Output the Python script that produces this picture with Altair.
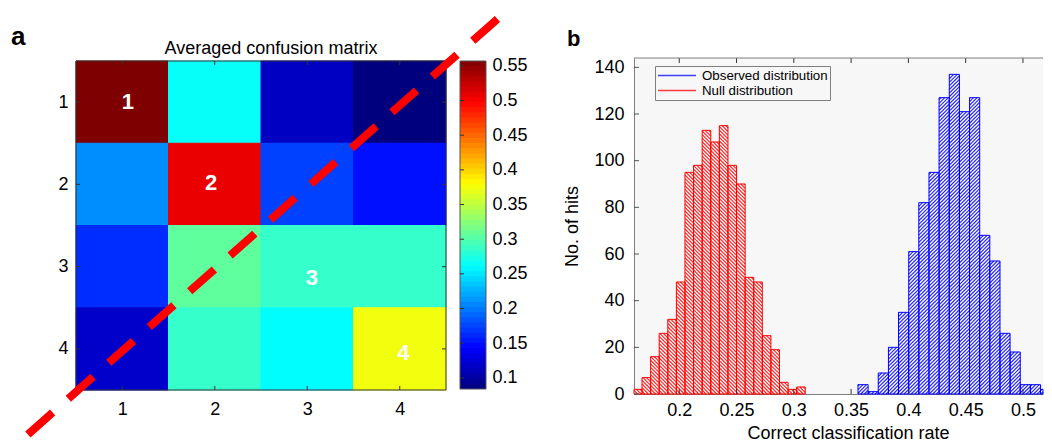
import altair as alt
import pandas as pd

# ---------------- panel a : averaged confusion matrix ----------------
classes = [1, 2, 3, 4]
conf_row1 = [0.557, 0.264, 0.115, 0.084]
conf_row2 = [0.209, 0.507, 0.173, 0.150]
conf_row3 = [0.164, 0.306, 0.286, 0.286]
conf_row4 = [0.119, 0.286, 0.261, 0.373]
diag_labels = ["1", "2", "3", "4"]
diag_label_x = [1.06, 1.96, 3.05, 4.04]
diag_label_y = [1.00, 1.98, 3.14, 4.05]
dash_line_x = [-0.02, 5.08]
dash_line_y = [5.04, -0.035]
cbar_min = 0.084
cbar_max = 0.557
cbar_ticks = [0.1, 0.15, 0.2, 0.25, 0.3, 0.35, 0.4, 0.45, 0.5, 0.55]
jet_colors = ["#00007f", "#0000ff", "#007fff", "#00ffff", "#7fff7f",
              "#ffff00", "#ff7f00", "#ff0000", "#7f0000"]
title_a = "Averaged confusion matrix"

# ---------------- panel b : histograms ----------------
series_names = ["Observed distribution", "Null distribution"]
series_colors = ["#0000ff", "#ff0000"]
obs_bin_left = [0.356, 0.3649, 0.3737, 0.3826, 0.3914, 0.4003, 0.4091, 0.418,
                0.4268, 0.4357, 0.4445, 0.4534, 0.4622, 0.4711, 0.4799, 0.4888,
                0.4976, 0.5065, 0.5153, 0.5242]
obs_counts = [4, 1, 9, 20, 35, 61, 82, 95, 127, 137, 121, 127, 68, 57, 26, 18,
              4, 4, 2, 2]
obs_bin_width = 0.00885
null_bin_left = [0.160, 0.1675, 0.175, 0.1825, 0.190, 0.1975, 0.205, 0.2125,
                 0.220, 0.2275, 0.235, 0.2425, 0.250, 0.2575, 0.265, 0.2725,
                 0.280, 0.2875, 0.295, 0.3025]
null_counts = [2, 7, 16, 26, 32, 48, 95, 98, 113, 108, 115, 98, 90, 50, 48, 25,
               19, 5, 2, 3]
null_bin_width = 0.0075
rate_ticks = [0.2, 0.25, 0.3, 0.35, 0.4, 0.45, 0.5]
hits_ticks = [0, 20, 40, 60, 80, 100, 120, 140]
rate_domain = [0.1605, 0.5175]
hits_domain = [0, 144]

FONT = "Liberation Sans"

# ---------------- layout (pixels) ----------------
A_W, A_H = 410, 336
HEAT_W = 370
HEAT_TOP, HEAT_BOT = 3, 332
CB_X0, CB_X1 = 384, 410
CB_TOP, CB_BOT = 3, 331
B_W, B_H = 409, 336
HATCH = 3.6

# ================= panel a =================
rows = []
for r, vals in zip(classes, [conf_row1, conf_row2, conf_row3, conf_row4]):
    for c, v in zip(classes, vals):
        rows.append({"row": r, "col": c, "value": v})
heat_df = pd.DataFrame(rows)

n_stop = len(jet_colors)
stops = [cbar_min + k * (cbar_max - cbar_min) / (n_stop - 1) for k in range(n_stop)]
cs = alt.Scale(domain=stops, range=jet_colors, interpolate="rgb", clamp=True)

lo_c, hi_c = min(classes) - 0.5, max(classes) + 0.5
xs = alt.Scale(domain=[lo_c, hi_c], range=[0, HEAT_W], nice=False, zero=False)
ys = alt.Scale(domain=[lo_c, hi_c], range=[HEAT_TOP, HEAT_BOT], nice=False, zero=False)
ax_hx = alt.Axis(values=classes, format="d", title=None, grid=False, domain=False,
                 ticks=False, labelFontSize=18, labelPadding=6, labelColor="black",
                 labelFlush=False, labelOverlap=False)
ax_hy = alt.Axis(values=classes, format="d", title=None, grid=False, domain=False,
                 ticks=False, labelFontSize=18, labelPadding=8, labelColor="black",
                 labelFlush=False, labelOverlap=False, orient="left")

heat = alt.Chart(heat_df).transform_calculate(
    x0="datum.col - 0.5", x1="datum.col + 0.5",
    y0="datum.row - 0.5", y1="datum.row + 0.5",
).mark_rect(strokeWidth=1).encode(
    x=alt.X("x0:Q", scale=xs, axis=ax_hx), x2="x1:Q",
    y=alt.Y("y0:Q", scale=ys, axis=ax_hy), y2="y1:Q",
    color=alt.Color("value:Q", scale=cs, legend=None),
    stroke=alt.Stroke("value:Q", scale=cs, legend=None),
)

frame_df = pd.DataFrame({"fx0": [lo_c], "fx1": [hi_c], "fy0": [lo_c], "fy1": [hi_c]})
frame = alt.Chart(frame_df).mark_rect(fillOpacity=0, stroke="#333333", strokeWidth=1).encode(
    x=alt.X("fx0:Q", scale=xs, axis=ax_hx), x2="fx1:Q",
    y=alt.Y("fy0:Q", scale=ys, axis=ax_hy), y2="fy1:Q",
)

tick_df = pd.DataFrame({"v": classes})
tk_top = alt.Chart(tick_df).mark_rule(color="#333333").encode(
    x=alt.X("v:Q", scale=xs, axis=ax_hx), y=alt.value(HEAT_TOP), y2=alt.value(HEAT_TOP + 4))
tk_bot = alt.Chart(tick_df).mark_rule(color="#333333").encode(
    x=alt.X("v:Q", scale=xs, axis=ax_hx), y=alt.value(HEAT_BOT), y2=alt.value(HEAT_BOT - 4))
tk_left = alt.Chart(tick_df).mark_rule(color="#333333").encode(
    y=alt.Y("v:Q", scale=ys, axis=ax_hy), x=alt.value(0), x2=alt.value(4))
tk_right = alt.Chart(tick_df).mark_rule(color="#333333").encode(
    y=alt.Y("v:Q", scale=ys, axis=ax_hy), x=alt.value(HEAT_W), x2=alt.value(HEAT_W - 4))

lab_df = pd.DataFrame({"lx": diag_label_x, "ly": diag_label_y, "txt": diag_labels})
labels = alt.Chart(lab_df).mark_text(color="white", fontWeight="bold", fontSize=22,
                                     align="center", baseline="middle").encode(
    x=alt.X("lx:Q", scale=xs, axis=ax_hx),
    y=alt.Y("ly:Q", scale=ys, axis=ax_hy),
    text="txt:N",
)

line_df = pd.DataFrame({"dx": dash_line_x, "dy": dash_line_y})
dash_line = alt.Chart(line_df).mark_line(color="#ff0000", strokeWidth=8,
                                         strokeDash=[33, 21], strokeCap="butt",
                                         strokeJoin="bevel").encode(
    x=alt.X("dx:Q", scale=xs, axis=ax_hx),
    y=alt.Y("dy:Q", scale=ys, axis=ax_hy),
)

letter_a = alt.Chart(pd.DataFrame({"t": ["a"]})).mark_text(
    fontSize=26, fontWeight="bold", align="left", baseline="alphabetic", color="black"
).encode(x=alt.value(-65), y=alt.value(-13), text="t:N")

title_text = alt.Chart(pd.DataFrame({"t": [title_a]})).mark_text(
    fontSize=18, align="center", baseline="alphabetic", color="black"
).encode(x=alt.value(195), y=alt.value(-4), text="t:N")

heat_group = alt.layer(heat, frame, tk_top, tk_bot, tk_left, tk_right, labels,
                       dash_line, letter_a, title_text)

# colorbar
cb_y = alt.Scale(domain=[cbar_min, cbar_max], range=[CB_BOT, CB_TOP], nice=False, zero=False)
ax_cb = alt.Axis(orient="right", values=cbar_ticks, format="~g", title=None, grid=False,
                 domain=False, ticks=False, labelFontSize=18, labelPadding=6,
                 labelColor="black", labelFlush=False, labelOverlap=False)
step = (cbar_max - cbar_min) / 64
cb_bands = alt.Chart(alt.sequence(0, 64, as_="i")).transform_calculate(
    lo=f"{cbar_min} + datum.i * {step}",
    hi=f"min({cbar_max}, {cbar_min} + (datum.i + 1.5) * {step})",
    mid=f"{cbar_min} + (datum.i + 0.5) * {step}",
).mark_rect().encode(
    x=alt.value(CB_X0), x2=alt.value(CB_X1),
    y=alt.Y("lo:Q", scale=cb_y, axis=ax_cb), y2="hi:Q",
    color=alt.Color("mid:Q", scale=cs, legend=None),
)
cb_frame = alt.Chart(pd.DataFrame({"lo": [cbar_min], "hi": [cbar_max]})).mark_rect(
    fillOpacity=0, stroke="#555555", strokeWidth=1).encode(
    x=alt.value(CB_X0), x2=alt.value(CB_X1),
    y=alt.Y("lo:Q", scale=cb_y, axis=ax_cb), y2="hi:Q",
)
cb_ticks = alt.Chart(pd.DataFrame({"v": cbar_ticks})).mark_rule(color="#333333").encode(
    y=alt.Y("v:Q", scale=cb_y, axis=ax_cb), x=alt.value(CB_X0), x2=alt.value(CB_X0 + 4))
cb_group = alt.layer(cb_bands, cb_frame, cb_ticks)

panel_a = alt.layer(heat_group, cb_group).resolve_scale(y="independent").properties(
    width=A_W, height=A_H,
)

# ================= panel b =================
hist_rows = []
for name, lefts, counts, bw in [
    (series_names[0], obs_bin_left, obs_counts, obs_bin_width),
    (series_names[1], null_bin_left, null_counts, null_bin_width),
]:
    for x0, h in zip(lefts, counts):
        hist_rows.append({"dist": name, "x0": x0, "x1": x0 + bw, "hits": h, "base": 0})
hist_df = pd.DataFrame(hist_rows)

XMIN, XMAX = rate_domain
hx = alt.Scale(domain=rate_domain, nice=False, zero=False)
hy = alt.Scale(domain=hits_domain, nice=False, zero=False)
ax_bx = alt.Axis(values=rate_ticks, format="~g", grid=False, ticks=False,
                 domainColor="#7f7f7f", labelFontSize=18, labelPadding=7,
                 labelColor="black", labelFlush=False, labelOverlap=False,
                 title="Correct classification rate", titleFontSize=18,
                 titleFontWeight="normal", titlePadding=5, titleColor="black",
                 titleX=214)
ax_by = alt.Axis(values=hits_ticks, format="d", grid=False, ticks=False,
                 domainColor="#7f7f7f", labelFontSize=18, labelPadding=10,
                 labelColor="black", labelOverlap=False,
                 title="No. of hits", titleFontSize=18, titleFontWeight="normal",
                 titlePadding=12, titleColor="black")
stroke_scale = alt.Scale(domain=series_names, range=series_colors)
leg = alt.Legend(title=None, orient="none", legendX=21, legendY=8, symbolType="stroke",
                 symbolSize=1444, symbolStrokeWidth=1.3, symbolOpacity=0.75,
                 labelFontSize=13.3, labelFont=FONT, labelColor="black",
                 padding=2, rowPadding=0, clipHeight=15, labelOffset=5,
                 strokeColor="#7f7f7f", fillColor="#f7f7f7", labelLimit=300)

SX = B_W / (XMAX - XMIN)
SY = B_H / (hits_domain[1] - hits_domain[0])

# bars clipped to the visible x range (keeps the drawing inside the page)
hist_base = alt.Chart(hist_df).transform_calculate(
    x0c=f"max(datum.x0, {XMIN})", x1c=f"min(datum.x1, {XMAX})"
).transform_filter("datum.x1c > datum.x0c")

bars_fill = hist_base.mark_rect(fill="white").encode(
    x=alt.X("x0c:Q", scale=hx, axis=ax_bx), x2="x1c:Q",
    y=alt.Y("hits:Q", scale=hy, axis=ax_by), y2="base:Q",
)


def hatch(name, slash, colour):
    base = hist_base.transform_filter(f"datum.dist == '{name}'").transform_calculate(
        L=f"(datum.x0c - {XMIN}) * {SX}",
        w=f"(datum.x1c - datum.x0c) * {SX}",
        hp=f"datum.hits * {SY}",
    )
    if slash:
        base = base.transform_calculate(
            ks=f"sequence(ceil((-datum.w - datum.L) / {HATCH}), floor((datum.hp - datum.L) / {HATCH}) + 1)"
        ).transform_flatten(["ks"]).transform_calculate(
            t=f"datum.ks * {HATCH} + datum.L",
            ua="max(0, -datum.t)",
            ub="min(datum.w, datum.hp - datum.t)",
        ).transform_filter("datum.ub - datum.ua > 0.2").transform_calculate(
            hx1=f"datum.x0c + datum.ua / {SX}",
            hy1=f"(datum.ua + datum.t) / {SY}",
            hx2=f"datum.x0c + datum.ub / {SX}",
            hy2=f"(datum.ub + datum.t) / {SY}",
        )
    else:
        base = base.transform_calculate(
            ks=f"sequence(ceil(datum.L / {HATCH}), floor((datum.L + datum.hp + datum.w) / {HATCH}) + 1)"
        ).transform_flatten(["ks"]).transform_calculate(
            t=f"datum.ks * {HATCH} - datum.L",
            ua="max(0, datum.t - datum.hp)",
            ub="min(datum.w, datum.t)",
        ).transform_filter("datum.ub - datum.ua > 0.2").transform_calculate(
            hx1=f"datum.x0c + datum.ua / {SX}",
            hy1=f"(datum.t - datum.ua) / {SY}",
            hx2=f"datum.x0c + datum.ub / {SX}",
            hy2=f"(datum.t - datum.ub) / {SY}",
        )
    return base.mark_rule(strokeWidth=1.2, opacity=0.85, color=colour).encode(
        x=alt.X("hx1:Q", scale=hx, axis=ax_bx), x2="hx2:Q",
        y=alt.Y("hy1:Q", scale=hy, axis=ax_by), y2="hy2:Q",
    )


hatch_obs = hatch(series_names[0], True, series_colors[0])
hatch_null = hatch(series_names[1], False, series_colors[1])

bars_outline = hist_base.mark_rect(filled=False, strokeWidth=1).encode(
    x=alt.X("x0c:Q", scale=hx, axis=ax_bx), x2="x1c:Q",
    y=alt.Y("hits:Q", scale=hy, axis=ax_by), y2="base:Q",
    stroke=alt.Stroke("dist:N", scale=stroke_scale, legend=leg),
)

rate_tick_df = pd.DataFrame({"v": rate_ticks})
hits_tick_df = pd.DataFrame({"v": hits_ticks})
btk_top = alt.Chart(rate_tick_df).mark_rule(color="#333333").encode(
    x=alt.X("v:Q", scale=hx, axis=ax_bx), y=alt.value(0), y2=alt.value(5))
btk_bot = alt.Chart(rate_tick_df).mark_rule(color="#333333").encode(
    x=alt.X("v:Q", scale=hx, axis=ax_bx), y=alt.value(B_H), y2=alt.value(B_H - 5))
btk_left = alt.Chart(hits_tick_df).mark_rule(color="#555555").encode(
    y=alt.Y("v:Q", scale=hy, axis=ax_by), x=alt.value(0), x2=alt.value(5))
top_border = alt.Chart(pd.DataFrame({"z": [0]})).mark_rule(color="#7f7f7f").encode(
    x=alt.value(0), x2=alt.value(B_W), y=alt.value(0))

letter_b = alt.Chart(pd.DataFrame({"t": ["b"]})).mark_text(
    fontSize=22, fontWeight="bold", align="left", baseline="alphabetic", color="black"
).encode(x=alt.value(-67), y=alt.value(-12), text="t:N")

panel_b = alt.layer(bars_fill, hatch_obs, hatch_null, bars_outline, btk_top, btk_bot,
                    btk_left, top_border, letter_b).properties(
    width=B_W, height=B_H, view=alt.ViewBackground(fill="#f7f7f7", strokeWidth=0),
)

chart = alt.hconcat(panel_a, panel_b, spacing=148, bounds="flush").properties(
    padding={"left": 3, "top": 4, "right": 0, "bottom": 0}
).configure(font=FONT).configure_view(strokeWidth=0)

chart.save("out.html", embed_options={"renderer": "svg", "actions": False})
